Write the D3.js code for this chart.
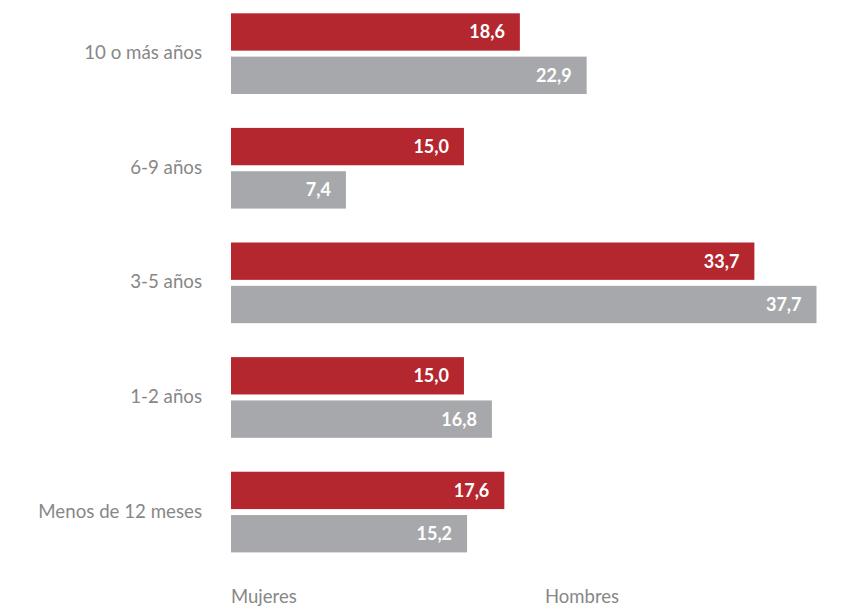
<!DOCTYPE html>
<html>
<head>
<meta charset="utf-8">
<script src="https://cdn.jsdelivr.net/npm/d3@7"></script>
<style>
  html, body { margin: 0; padding: 0; background: #fff; }
  svg { display: block; }
</style>
</head>
<body>
<svg id="chart" width="859" height="614"></svg>
<script>
const categories = ["10 o más años", "6-9 años", "3-5 años", "1-2 años", "Menos de 12 meses"];
const seriesNames = ["Mujeres", "Hombres"];
const mujeres = [18.6, 15.0, 33.7, 15.0, 17.6];
const hombres = [22.9, 7.4, 37.7, 16.8, 15.2];
const colors = { "Mujeres": "#b5272f", "Hombres": "#a7a8ab" };

const svg = d3.select("#chart");
const fontFamily = "Lato, 'Open Sans', sans-serif";

const x = d3.scaleLinear().domain([0, 37.7]).range([231, 816.5]);
const y = d3.scaleBand().domain(categories).range([13.3, 552.4]).paddingInner(0.296).paddingOuter(0);
const ySub = d3.scaleBand().domain(seriesNames).range([0, y.bandwidth()]).paddingInner(0.138);

const data = [];
categories.forEach((c, i) => {
  data.push({ cat: c, series: "Mujeres", value: mujeres[i] });
  data.push({ cat: c, series: "Hombres", value: hombres[i] });
});

const fmt = v => d3.format(".1f")(v).replace(".", ",");

svg.append("g").selectAll("rect").data(data).join("rect")
  .attr("x", x(0))
  .attr("y", d => y(d.cat) + ySub(d.series))
  .attr("width", d => x(d.value) - x(0))
  .attr("height", ySub.bandwidth())
  .attr("fill", d => colors[d.series]);

svg.append("g").selectAll("text").data(data).join("text")
  .attr("x", d => x(d.value) - 15)
  .attr("y", d => y(d.cat) + ySub(d.series) + ySub.bandwidth() / 2)
  .attr("dy", "0.36em")
  .attr("text-anchor", "end")
  .attr("fill", "#fff")
  .attr("font-family", fontFamily)
  .attr("font-weight", 700)
  .attr("font-size", 18)
  .text(d => fmt(d.value));

// category axis
const yAxis = d3.axisLeft(y).tickSize(0).tickPadding(0);
const gy = svg.append("g").attr("transform", "translate(202,0)").call(yAxis);
gy.select(".domain").remove();
gy.selectAll("text")
  .attr("fill", "#878787")
  .attr("font-family", fontFamily)
  .attr("font-size", 18.7)
  .attr("dy", "0.3em")
  .attr("font-weight", 400);

// legend labels
const legendX = { "Mujeres": 231, "Hombres": 545 };
svg.append("g").selectAll("text").data(seriesNames).join("text")
  .attr("x", d => legendX[d])
  .attr("y", 603)
  .attr("fill", "#878787")
  .attr("font-family", fontFamily)
  .attr("font-size", 18.5)
  .text(d => d);
</script>
</body>
</html>
